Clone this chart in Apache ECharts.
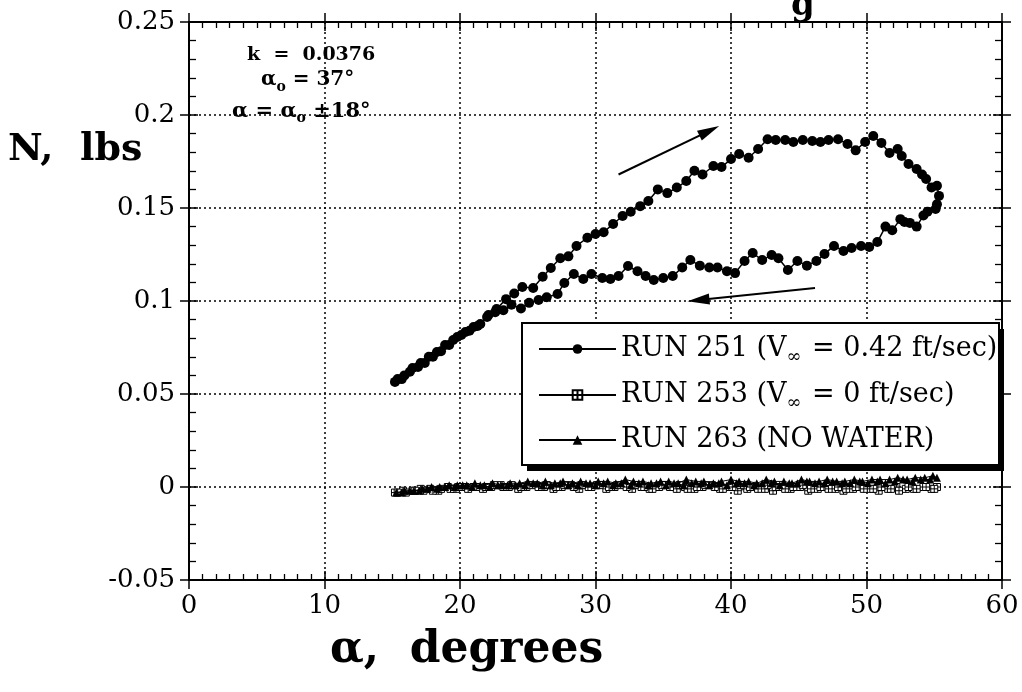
<!DOCTYPE html>
<html><head><meta charset="utf-8">
<script src="https://cdn.jsdelivr.net/npm/echarts@6.0.0/dist/echarts.min.js"></script>
<style>html,body{margin:0;padding:0;background:#fff}#c{width:1022px;height:692px}</style>
</head><body><div id="c"></div>
<script>
// RUN 251, increasing alpha (upper branch)
const run251Up = [[15.2,0.0565],[15.7,0.058],[16.3,0.062],[16.9,0.0645],[17.4,0.0667],[18.0,0.070],[18.6,0.073],[19.2,0.0763],[19.8,0.0806],[20.4,0.0833],[21.0,0.086],[21.5,0.0876],[22.1,0.0925],[22.7,0.0957],[23.4,0.101],[24.0,0.104],[24.6,0.1075],[25.4,0.107],[26.1,0.113],[26.7,0.1177],[27.4,0.123],[28.0,0.124],[28.6,0.1296],[29.4,0.134],[30.0,0.136],[30.6,0.137],[31.3,0.1414],[32.0,0.1457],[32.6,0.148],[33.3,0.151],[33.9,0.1538],[34.6,0.160],[35.3,0.158],[36.0,0.161],[36.7,0.1645],[37.3,0.170],[37.9,0.168],[38.7,0.1726],[39.3,0.172],[40.0,0.1763],[40.6,0.179],[41.3,0.177],[42.0,0.1817],[42.7,0.187],[43.3,0.1866],[44.0,0.1866],[44.6,0.1855],[45.3,0.1866],[46.0,0.186],[46.6,0.1855],[47.2,0.1866],[47.9,0.187],[48.6,0.1844],[49.2,0.181],[49.9,0.1855],[50.5,0.1887],[51.1,0.185],[51.7,0.1796],[52.3,0.1817],[52.6,0.178],[53.1,0.1737],[53.7,0.171],[54.1,0.168],[54.4,0.1656],[54.8,0.161],[55.2,0.162],[55.35,0.1565],[55.2,0.152],[55.1,0.1495]];
// RUN 251, decreasing alpha (lower branch)
const run251Down = [[54.5,0.148],[54.2,0.146],[53.7,0.140],[53.2,0.142],[52.8,0.1425],[52.5,0.144],[51.9,0.138],[51.4,0.140],[50.8,0.1317],[50.2,0.129],[49.6,0.1296],[48.9,0.1285],[48.3,0.1269],[47.6,0.1296],[46.9,0.1253],[46.3,0.1215],[45.6,0.119],[44.9,0.1215],[44.2,0.1167],[43.5,0.123],[43.0,0.1247],[42.3,0.122],[41.6,0.1258],[41.0,0.1215],[40.3,0.115],[39.7,0.116],[39.0,0.118],[38.4,0.118],[37.7,0.119],[37.0,0.122],[36.4,0.118],[35.7,0.1134],[35.0,0.1124],[34.3,0.1113],[33.7,0.1134],[33.1,0.116],[32.4,0.1188],[31.7,0.1134],[31.1,0.1118],[30.5,0.1124],[29.7,0.1145],[29.1,0.1118],[28.4,0.1145],[27.7,0.1097],[27.2,0.1038],[26.4,0.102],[25.8,0.1005],[25.1,0.099],[24.5,0.096],[23.8,0.098],[23.2,0.095],[22.6,0.094],[22.0,0.0914],[21.3,0.0866],[20.7,0.084],[20.1,0.0817],[19.5,0.079],[18.9,0.0763],[18.3,0.0726],[17.7,0.070],[17.1,0.0667],[16.5,0.064],[15.9,0.060],[15.4,0.058]];
// RUN 253 (no flow)
const run253Up = [[15.2,-0.003],[15.8,-0.002],[16.5,-0.002],[17.1,-0.001],[17.8,-0.001],[18.4,-0.002],[19.1,0.000],[19.7,-0.001],[20.4,0.000],[21.0,0.000],[21.7,-0.001],[22.3,0.000],[23.0,0.001],[23.6,0.000],[24.3,-0.001],[24.9,0.000],[25.6,0.001],[26.2,0.000],[26.9,-0.001],[27.5,0.000],[28.2,0.001],[28.8,-0.001],[29.5,0.000],[30.1,0.001],[30.8,-0.001],[31.4,0.000],[32.1,0.001],[32.7,-0.001],[33.4,0.000],[34.0,-0.001],[34.7,0.000],[35.3,0.001],[36.0,-0.001],[36.6,0.000],[37.3,-0.001],[37.9,0.000],[38.6,0.001],[39.2,-0.001],[39.9,0.000],[40.5,-0.002],[41.2,-0.001],[41.8,0.000],[42.5,-0.001],[43.1,-0.002],[43.8,0.000],[44.4,-0.001],[45.1,0.000],[45.7,-0.002],[46.4,-0.001],[47.0,0.000],[47.7,-0.001],[48.3,-0.002],[49.0,-0.001],[49.6,0.000],[50.3,-0.001],[50.9,-0.002],[51.6,-0.001],[52.2,0.000],[52.9,-0.001],[53.5,-0.001],[54.2,0.000],[54.8,-0.001],[55.2,0.000]];
const run253Down = [[55.0,-0.001],[54.4,0.000],[53.7,-0.001],[53.1,0.000],[52.4,-0.002],[51.8,-0.001],[51.1,0.000],[50.5,-0.001],[49.8,-0.001],[49.2,0.000],[48.5,-0.001],[47.9,0.000],[47.2,-0.001],[46.6,0.000],[45.9,-0.001],[45.3,0.001],[44.6,0.000],[44.0,-0.001],[43.3,0.000],[42.7,0.001],[42.0,-0.001],[41.4,0.000],[40.7,0.001],[40.1,0.000],[39.4,-0.001],[38.8,0.000],[38.1,0.001],[37.5,0.000],[36.8,-0.001],[36.2,0.001],[35.5,0.000],[34.9,0.001],[34.2,-0.001],[33.6,0.000],[32.9,0.001],[32.3,0.000],[31.6,0.001],[31.0,0.000],[30.3,0.001],[29.7,0.000],[29.0,0.001],[28.4,0.000],[27.7,0.001],[27.1,0.000],[26.4,0.001],[25.8,0.000],[25.1,0.001],[24.5,0.000],[23.8,0.001],[23.2,0.000],[22.5,0.001],[21.9,0.000],[21.2,0.000],[20.6,-0.001],[19.9,0.000],[19.3,-0.001],[18.6,-0.001],[18.0,-0.002],[17.3,-0.002],[16.7,-0.002],[16.0,-0.003],[15.4,-0.003]];
// RUN 263 (no water)
const run263Up = [[15.3,-0.003],[15.9,-0.002],[16.6,-0.002],[17.2,-0.001],[17.9,0.000],[18.5,0.000],[19.2,0.001],[19.8,0.001],[20.5,0.001],[21.1,0.002],[21.8,0.001],[22.4,0.002],[23.1,0.001],[23.7,0.002],[24.4,0.002],[25.0,0.003],[25.7,0.002],[26.3,0.003],[27.0,0.002],[27.6,0.003],[28.3,0.002],[28.9,0.003],[29.6,0.002],[30.2,0.003],[30.9,0.003],[31.5,0.002],[32.2,0.004],[32.8,0.003],[33.5,0.003],[34.1,0.002],[34.8,0.003],[35.4,0.003],[36.1,0.002],[36.7,0.004],[37.4,0.003],[38.0,0.003],[38.7,0.002],[39.3,0.003],[40.0,0.004],[40.6,0.003],[41.3,0.003],[41.9,0.002],[42.6,0.004],[43.2,0.003],[43.9,0.003],[44.5,0.002],[45.2,0.004],[45.8,0.003],[46.5,0.003],[47.1,0.004],[47.8,0.003],[48.4,0.003],[49.1,0.004],[49.7,0.003],[50.4,0.004],[51.0,0.004],[51.7,0.004],[52.3,0.005],[53.0,0.004],[53.6,0.005],[54.3,0.005],[54.9,0.006],[55.2,0.005]];
const run263Down = [[54.7,0.004],[54.0,0.004],[53.4,0.003],[52.7,0.004],[52.1,0.003],[51.4,0.002],[50.8,0.003],[50.1,0.002],[49.5,0.003],[48.8,0.002],[48.2,0.002],[47.5,0.003],[46.9,0.002],[46.2,0.002],[45.6,0.003],[44.9,0.002],[44.3,0.002],[43.6,0.001],[43.0,0.002],[42.3,0.002],[41.7,0.001],[41.0,0.002],[40.4,0.002],[39.7,0.001],[39.1,0.002],[38.4,0.001],[37.8,0.002],[37.1,0.002],[36.5,0.001],[35.8,0.002],[35.2,0.001],[34.5,0.002],[33.9,0.001],[33.2,0.002],[32.6,0.001],[31.9,0.002],[31.3,0.001],[30.6,0.002],[30.0,0.001],[29.3,0.002],[28.7,0.001],[28.0,0.001],[27.4,0.002],[26.7,0.001],[26.1,0.001],[25.4,0.002],[24.8,0.001],[24.1,0.001],[23.5,0.001],[22.8,0.001],[22.2,0.000],[21.5,0.001],[20.9,0.000],[20.2,0.001],[19.6,0.000],[18.9,0.000],[18.3,-0.001],[17.6,-0.001],[17.0,-0.002],[16.3,-0.002],[15.7,-0.003]];
// direction arrows [from, to] in data coords
const arrowUp = [[31.7,0.168],[38.4,0.1915]];
const arrowDown = [[46.2,0.107],[37.6,0.1005]];
// axis ranges
const xRange = [0, 60, 10];
const yRange = [-0.05, 0.25, 0.05];
const seriesNames = ['RUN 251', 'RUN 253', 'RUN 263'];
const legendText = {
  'RUN 251': 'RUN 251 (V{sub|∞} = 0.42 ft/sec)',
  'RUN 253': 'RUN 253 (V{sub|∞} = 0 ft/sec)',
  'RUN 263': 'RUN 263 (NO WATER)'
};

const SERIF = 'DejaVu Serif';
const BLK = '#000';
const chart = echarts.init(document.getElementById('c'), null, {renderer: 'canvas'});

function xAx(grid, pos, inside, labels, split) {
  return {
    type: 'value', gridIndex: grid, position: pos,
    min: xRange[0], max: xRange[1], interval: xRange[2],
    axisLine: {show: true, onZero: false, lineStyle: {color: BLK, width: 2}},
    axisTick: {show: true, inside: inside, length: 9, lineStyle: {color: BLK, width: 1.5}},
    minorTick: {show: inside, splitNumber: 10, length: 6, lineStyle: {color: BLK, width: 1.3}},
    axisLabel: {show: labels, margin: 13, color: BLK, fontFamily: SERIF, fontSize: 26},
    splitLine: {show: split, lineStyle: {color: BLK, width: 1.5, type: [2, 3]}},
    minorSplitLine: {show: false}
  };
}
function yAx(grid, pos, inside, labels, split) {
  return {
    type: 'value', gridIndex: grid, position: pos,
    min: yRange[0], max: yRange[1], interval: yRange[2],
    axisLine: {show: true, onZero: false, lineStyle: {color: BLK, width: 2}},
    axisTick: {show: true, inside: inside, length: 9, lineStyle: {color: BLK, width: 1.5}},
    minorTick: {show: inside, splitNumber: 5, length: 7, lineStyle: {color: BLK, width: 1.3}},
    axisLabel: {show: labels, margin: 14, color: BLK, fontFamily: SERIF, fontSize: 26},
    splitLine: {show: split, lineStyle: {color: BLK, width: 1.5, type: [2, 3]}},
    minorSplitLine: {show: false}
  };
}

const gridRect = {left: 189, top: 22, width: 813, height: 558};

const option = {
  animation: false,
  backgroundColor: '#fff',
  grid: [Object.assign({}, gridRect), Object.assign({}, gridRect)],
  xAxis: [xAx(0, 'bottom', false, true, true), xAx(0, 'top', false, false, false),
          xAx(1, 'bottom', true, false, false), xAx(1, 'top', true, false, false)],
  yAxis: [yAx(0, 'left', false, true, true), yAx(0, 'right', false, false, false),
          yAx(1, 'left', true, false, false), yAx(1, 'right', true, false, false)],
  legend: {
    orient: 'vertical', left: 538, top: 332, z: 20,
    itemWidth: 77, itemHeight: 12, itemGap: 12,
    padding: 0,
    data: seriesNames,
    formatter: function (n) { return legendText[n]; },
    textStyle: {
      color: BLK, fontFamily: SERIF, fontSize: 27, lineHeight: 32,
      rich: {sub: {fontFamily: SERIF, fontSize: 18, lineHeight: 18, padding: [16, 2, 0, 0], color: BLK}}
    }
  },
  series: [
    {
      name: seriesNames[0], type: 'line', xAxisIndex: 0, yAxisIndex: 0,
      data: run251Up.concat(run251Down),
      symbol: 'circle', symbolSize: 10, showAllSymbol: true,
      lineStyle: {color: BLK, width: 1.5}, itemStyle: {color: BLK}, z: 5,
      markLine: {
        silent: true, symbol: ['none', 'path://M5 0L10 22L0 22Z'], symbolSize: [11, 22],
        lineStyle: {color: BLK, width: 2, type: 'solid'}, label: {show: false},
        data: [
          [{coord: arrowUp[0]}, {coord: arrowUp[1]}],
          [{coord: arrowDown[0]}, {coord: arrowDown[1]}]
        ]
      }
    },
    {
      name: seriesNames[1], type: 'line', xAxisIndex: 0, yAxisIndex: 0,
      data: run253Up.concat(run253Down),
      symbol: 'path://M0 0H10V10H0Z M5 0V10 M0 5H10', symbolSize: 7, showAllSymbol: true,
      lineStyle: {color: BLK, width: 1}, itemStyle: {color: '#fff', borderColor: BLK, borderWidth: 1}, z: 3
    },
    {
      name: seriesNames[2], type: 'line', xAxisIndex: 0, yAxisIndex: 0,
      data: run263Up.concat(run263Down),
      symbol: 'triangle', symbolSize: 8, showAllSymbol: true,
      lineStyle: {color: BLK, width: 1}, itemStyle: {color: BLK}, z: 4
    }
  ],
  graphic: [
    // legend frame with its hard drop shadow
    {type: 'rect', z: 10, shape: {x: 527, y: 329, width: 477, height: 142}, style: {fill: BLK}},
    {type: 'rect', z: 11, shape: {x: 522, y: 323, width: 477, height: 142}, style: {fill: '#fff', stroke: BLK, lineWidth: 2}},
    {type: 'text', left: 8, top: 131, style: {text: 'N,  lbs', font: 'bold 38px "DejaVu Serif"', fill: BLK}},
    {type: 'text', left: 330, top: 629, style: {text: 'α,  degrees', font: 'bold 44px "DejaVu Serif"', fill: BLK}},
    {type: 'text', left: 247, top: 46, style: {text: 'k  =  0.0376', font: 'bold 19px "DejaVu Serif"', fill: BLK}},
    {type: 'text', left: 261, top: 70, style: {text: 'α{s|o} = 37°', font: 'bold 20px "DejaVu Serif"', fill: BLK,
      rich: {s: {font: 'bold 14px "DejaVu Serif"', padding: [14, 0, 0, 0]}}}},
    {type: 'text', left: 232, top: 101, style: {text: 'α = α{s|o} ±18°', font: 'bold 21px "DejaVu Serif"', fill: BLK,
      rich: {s: {font: 'bold 14px "DejaVu Serif"', padding: [14, 0, 0, 0]}}}},
    {type: 'text', left: 791, top: -11, style: {text: 'g', font: 'bold 34px "DejaVu Serif"', fill: BLK}}
  ]
};
chart.setOption(option);
</script></body></html>
